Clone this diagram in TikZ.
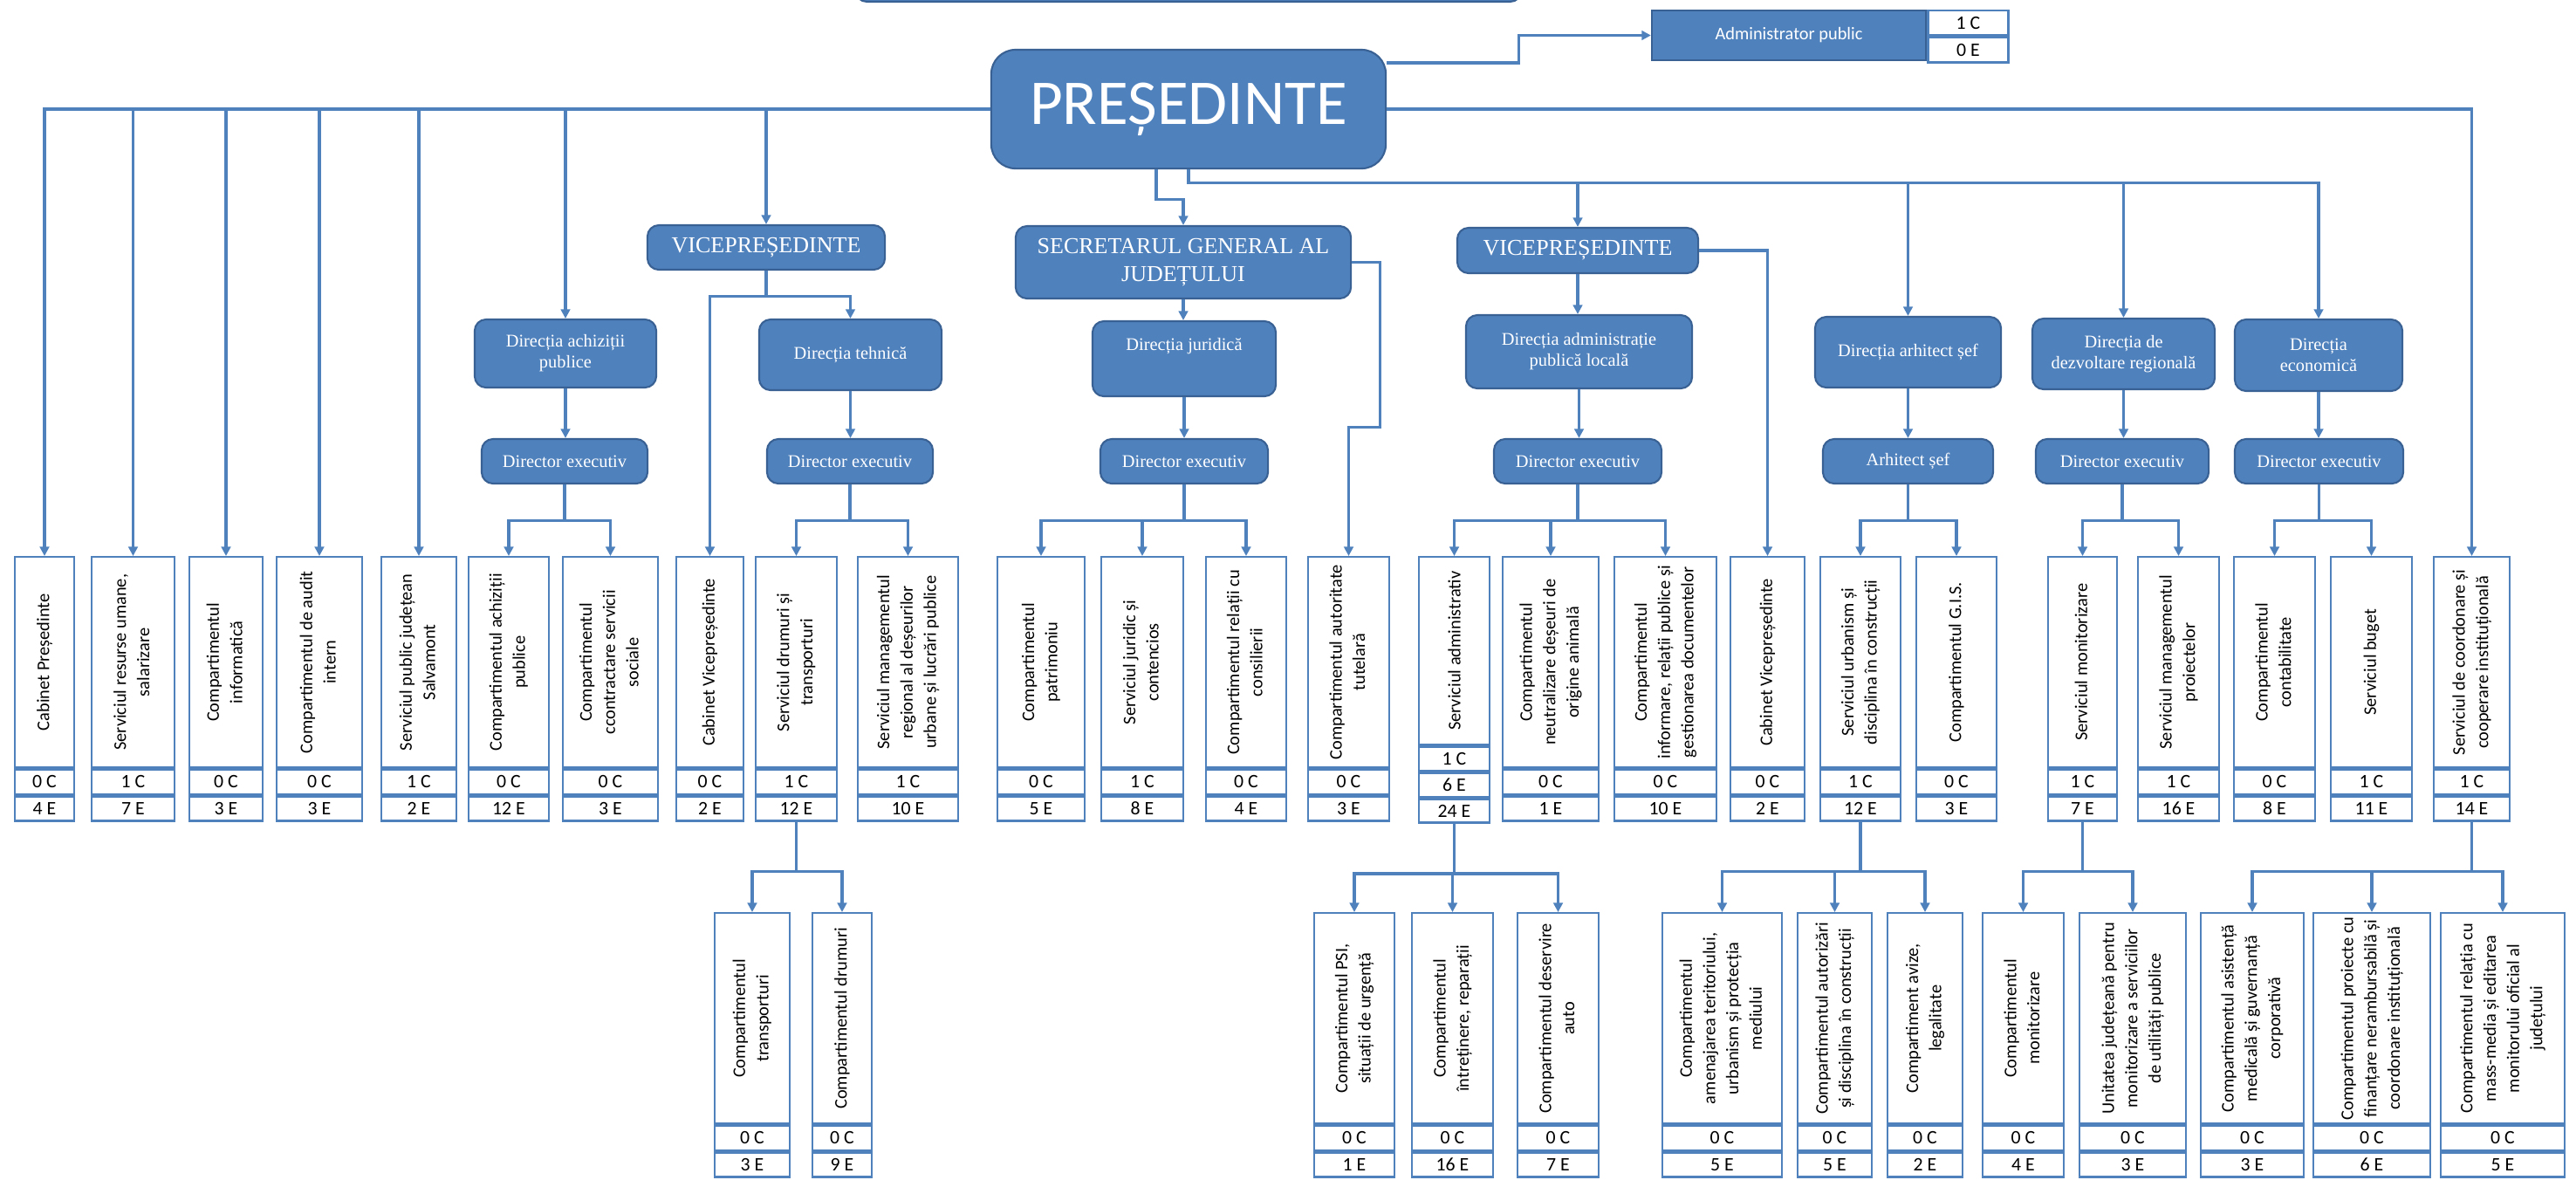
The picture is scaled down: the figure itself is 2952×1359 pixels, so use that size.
\documentclass[tikz,border=0pt]{standalone}
\usepackage{fontspec}
\setmainfont{Liberation Serif}
\newfontfamily\calfont{Carlito}
\usetikzlibrary{arrows.meta}
\definecolor{hdblue}{HTML}{4F81BD}
\definecolor{hdline}{HTML}{3A6193}
\definecolor{lnblue}{HTML}{4F81BD}
% one office: text box with the C and E cells below it
\newcommand{\unitbox}[7]{%
  \node[unit,minimum width={(#3-#2)*0.01cm},anchor=north] (#1) at ({(#2+#3)/2},#4) {\rotatebox{90}{\begin{tabular}{@{}c@{}}#5\end{tabular}}};
  \node[cell,minimum width={(#3-#2)*0.01cm},anchor=north] (#1c) at (#1.south) {#6};
  \node[cell,minimum width={(#3-#2)*0.01cm},anchor=north] (#1e) at (#1c.south) {#7};}

\begin{document}
\begin{tikzpicture}[x=0.01cm,y=-0.01cm,>={Triangle[length=3pt,width=3pt]},
    head/.style={draw=hdline,fill=hdblue,text=white,rounded corners=1.3mm,line width=0.6pt,align=center,inner sep=1pt},
    small head/.style={head,font=\rmfamily\fontsize{5.8}{6.8}\selectfont},
    big head/.style={head,font=\rmfamily\fontsize{7.4}{9}\selectfont},
    unit/.style={draw=lnblue,fill=white,line width=0.7pt,inner sep=0pt,minimum height=2.41cm,font=\calfont\fontsize{5.8}{7.6}\selectfont},
    cell/.style={draw=lnblue,fill=white,line width=0.7pt,inner sep=0pt,minimum height=0.28cm,font=\calfont\fontsize{6.2}{7}\selectfont},
    conn/.style={draw=lnblue,line width=0.9pt,->}]
  \useasboundingbox (0,0) rectangle (2952,1359);

  % top level
  \node[head,minimum width=7.63cm,minimum height=1cm,anchor=south] (cons) at (1362,3) {};
  \node[head,rounded corners=2.8mm,minimum width=4.52cm,minimum height=1.36cm,font=\calfont\fontsize{20.8}{24}\selectfont] (pres) at (1362,125) {PREȘEDINTE};
  \node[draw=hdline,fill=hdblue,text=white,line width=0.6pt,inner sep=0pt,minimum width=3.14cm,minimum height=0.57cm,font=\calfont\fontsize{5.8}{7}\selectfont] (admin) at (2050,40.5) {Administrator public};
  \node[cell,minimum width=0.92cm,minimum height=0.285cm,anchor=north west] (adminc) at (admin.north east) {1 C};
  \node[cell,minimum width=0.92cm,minimum height=0.285cm,anchor=north west] (admine) at (adminc.south west) {0 E};

  \node[big head,minimum width=2.72cm,minimum height=0.51cm] (vp1) at (878,283.5) {VICEPREȘEDINTE};
  \node[big head,minimum width=3.84cm,minimum height=0.83cm] (sec) at (1356,300.5) {SECRETARUL GENERAL AL\\JUDEȚULUI};
  \node[big head,minimum width=2.76cm,minimum height=0.52cm] (vp2) at (1808,287) {VICEPREȘEDINTE};

  % directions
  \node[small head,minimum width=2.08cm,minimum height=0.78cm] (dap) at (648,405) {Direcția achiziții\\publice};
  \node[small head,minimum width=1.90cm,minimum height=0.51cm] (dea) at (647,528.5) {Director executiv};
  \node[small head,minimum width=2.09cm,minimum height=0.81cm] (dth) at (974.5,406.5) {Direcția tehnică};
  \node[small head,minimum width=1.90cm,minimum height=0.51cm] (det) at (974,528.5) {Director executiv};
  \node[small head,minimum width=2.10cm,minimum height=0.86cm] (djr) at (1357,411) {Direcția juridică\\[2.5pt]\mbox{}};
  \node[small head,minimum width=1.92cm,minimum height=0.51cm] (dej) at (1357,528.5) {Director executiv};
  \node[small head,minimum width=2.59cm,minimum height=0.84cm] (dapl) at (1809.5,403) {Direcția administrație\\publică locală};
  \node[small head,minimum width=1.92cm,minimum height=0.51cm] (dea2) at (1808,528.5) {Director executiv};
  \node[small head,minimum width=2.13cm,minimum height=0.81cm] (das) at (2186.5,403.5) {Direcția arhitect șef};
  \node[small head,minimum width=1.95cm,minimum height=0.51cm] (ars) at (2186.5,528.5) {Arhitect șef};
  \node[small head,minimum width=2.09cm,minimum height=0.81cm] (ddr) at (2433.5,405.5) {Direcția de\\dezvoltare regională};
  \node[small head,minimum width=1.98cm,minimum height=0.51cm] (ded) at (2432,528.5) {Director executiv};
  \node[small head,minimum width=1.92cm,minimum height=0.82cm] (dec) at (2657,407) {Direcția\\economică};
  \node[small head,minimum width=1.93cm,minimum height=0.51cm] (dee) at (2657.5,528.5) {Director executiv};

  % first row of offices
  \unitbox{cabp}{17}{85}{637}{Cabinet Președinte}{0 C}{4 E}
  \unitbox{srum}{105}{200}{637}{Serviciul resurse umane,\\salarizare}{1 C}{7 E}
  \unitbox{cinf}{217}{301}{637}{Compartimentul\\informatică}{0 C}{3 E}
  \unitbox{caud}{317}{415}{637}{Compartimentul de audit\\intern}{0 C}{3 E}
  \unitbox{spjs}{437}{523}{637}{Serviciul public județean\\Salvamont}{1 C}{2 E}
  \unitbox{cap}{537}{629}{637}{Compartimentul achiziții\\publice}{0 C}{12 E}
  \unitbox{ccs}{645}{754}{637}{Compartimentul\\ccontractare servicii\\sociale}{0 C}{3 E}
  \unitbox{cvp1}{775}{852}{637}{Cabinet Vicepreședinte}{0 C}{2 E}
  \unitbox{sdt}{866}{959}{637}{Serviciul drumuri și\\transporturi}{1 C}{12 E}
  \unitbox{smr}{983}{1098}{637}{Serviciul managementul\\regional al deșeurilor\\urbane și lucrări publice}{1 C}{10 E}
  \unitbox{cpat}{1143}{1243}{637}{Compartimentul\\patrimoniu}{0 C}{5 E}
  \unitbox{sjc}{1262}{1356}{637}{Serviciul juridic și\\contencios}{1 C}{8 E}
  \unitbox{crc}{1382}{1474}{637}{Compartimentul relații cu\\consilierii}{0 C}{4 E}
  \unitbox{cat}{1499}{1592}{637}{Compartimentul autoritate\\tutelară}{0 C}{3 E}
  \node[unit,minimum width=0.81cm,minimum height=2.15cm,anchor=north] (sad) at (1666.5,637) {\rotatebox{90}{Serviciul administrativ}};
  \node[cell,minimum width=0.81cm,minimum height=0.273cm,anchor=north] (sadc) at (sad.south) {1 C};
  \node[cell,minimum width=0.81cm,minimum height=0.273cm,anchor=north] (sade) at (sadc.south) {6 E};
  \node[cell,minimum width=0.81cm,minimum height=0.273cm,anchor=north] (sadt) at (sade.south) {24 E};
  \unitbox{cnd}{1722}{1832}{637}{Compartimentul\\neutralizare deșeuri de\\origine animală}{0 C}{1 E}
  \unitbox{cirp}{1850}{1967}{637}{Compartimentul\\informare, relații publice și\\gestionarea documentelor}{0 C}{10 E}
  \unitbox{cvp2}{1983}{2068}{637}{Cabinet Vicepreședinte}{0 C}{2 E}
  \unitbox{sud}{2086}{2178}{637}{Serviciul urbanism și\\disciplina  în construcții}{1 C}{12 E}
  \unitbox{cgis}{2196}{2288}{637}{Compartimentul G.I.S.}{0 C}{3 E}
  \unitbox{smo}{2347}{2426}{637}{Serviciul monitorizare}{1 C}{7 E}
  \unitbox{smp}{2450}{2543}{637}{Serviciul managementul\\proiectelor}{1 C}{16 E}
  \unitbox{ccon}{2560}{2653}{637}{Compartimentul\\contabilitate}{0 C}{8 E}
  \unitbox{sbug}{2671}{2764}{637}{Serviciul buget}{1 C}{11 E}
  \unitbox{scc}{2789}{2876}{637}{Serviciul de coordonare și\\cooperare instituțională}{1 C}{14 E}

  % second row of offices
  \unitbox{ctr}{819}{905}{1045}{Compartimentul\\transporturi}{0 C}{3 E}
  \unitbox{cdr}{931}{999}{1045}{Compartimentul drumuri}{0 C}{9 E}
  \unitbox{cpsi}{1506}{1598}{1045}{Compartimentul PSI,\\situații de urgență}{0 C}{1 E}
  \unitbox{cint}{1618}{1711}{1045}{Compartimentul\\întreținere, reparații}{0 C}{16 E}
  \unitbox{cda}{1739}{1832}{1045}{Compartimentul deservire\\auto}{0 C}{7 E}
  \unitbox{cam}{1905}{2042}{1045}{Compartimentul\\amenajarea teritoriului,\\urbanism și protecția\\mediului}{0 C}{5 E}
  \unitbox{cadc}{2060}{2145}{1045}{Compartimentul autorizări\\și disciplina în construcții}{0 C}{5 E}
  \unitbox{cav}{2163}{2249}{1045}{Compartiment avize,\\legalitate}{0 C}{2 E}
  \unitbox{cmo}{2272}{2365}{1045}{Compartimentul\\monitorizare}{0 C}{4 E}
  \unitbox{ujm}{2383}{2505}{1045}{Unitatea județeană pentru\\monitorizare a serviciilor\\de utilități publice}{0 C}{3 E}
  \unitbox{camg}{2522}{2640}{1045}{Compartimentul asistență\\medicală și guvernanță\\corporativă}{0 C}{3 E}
  \unitbox{cpfn}{2651}{2785}{1045}{Compartimentul proiecte cu\\finanțare nerambursabilă și\\coordonare instituțională}{0 C}{6 E}
  \unitbox{crmm}{2797}{2939}{1045}{Compartimentul relația cu\\mass-media și editarea\\monitorului oficial al\\județului}{0 C}{5 E}

  % president links
  \draw[conn] (pres.west) -| (cabp.north);
  \draw[conn] (srum.north |- pres.west) -- (srum.north);
  \draw[conn] (cinf.north |- pres.west) -- (cinf.north);
  \draw[conn] (caud.north |- pres.west) -- (caud.north);
  \draw[conn] (spjs.north |- pres.west) -- (spjs.north);
  \draw[conn] (dap.north |- pres.west) -- (dap.north);
  \draw[conn] (vp1.north |- pres.west) -- (vp1.north);
  \draw[conn] (pres.east) -| (scc.north);
  \draw[conn] ([yshift=0.53cm]pres.east) -- ++(151,0) |- (admin.west);
  \draw[conn] ([xshift=-0.37cm]pres.south) -- ++(0,34) -| (sec.north);
  \coordinate (bus2) at ([yshift=-0.15cm]pres.south);
  \draw[conn] (pres.south) -- (bus2) -| (dec.north);
  \draw[conn] (vp2.north |- bus2) -- (vp2.north);
  \draw[conn] (das.north |- bus2) -- (das.north);
  \draw[conn] (ddr.north |- bus2) -- (ddr.north);

  % vicepresedinte (left)
  \draw[conn] (vp1.south) -- ++(0,29) -| (dth.north);
  \draw[conn] (vp1.south) ++(0,29) -| (cvp1.north);
  \draw[conn] (dap.south) -- (dap.south |- dea.north);
  \draw[conn] (dea.south) -- ++(0,41) -| (cap.north);
  \draw[conn] (dea.south) ++(0,41) -| (ccs.north);
  \draw[conn] (dth.south) -- (dth.south |- det.north);
  \draw[conn] (det.south) -- ++(0,41) -| (sdt.north);
  \draw[conn] (det.south) ++(0,41) -| (smr.north);
  \draw[conn] (sdte.south) -- ++(0,57) -| (ctr.north);
  \draw[conn] (sdte.south) ++(0,57) -| (cdr.north);

  % secretar general
  \draw[conn] (sec.south) -- (sec.south |- djr.north);
  \draw[conn] (djr.south) -- (djr.south |- dej.north);
  \draw[conn] (dej.south) -- ++(0,41) -| (cpat.north);
  \draw[conn] (dej.south) ++(0,41) -| (sjc.north);
  \draw[conn] (dej.south) ++(0,41) -| (crc.north);
  \draw[conn] (sec.east) -- ++(32,0) -- ++(0,189) -| (cat.north);

  % vicepresedinte (right)
  \draw[conn] (vp2.south) -- (vp2.south |- dapl.north);
  \draw[conn] (vp2.east) -| (cvp2.north);
  \draw[conn] (dapl.south) -- (dapl.south |- dea2.north);
  \draw[conn] (dea2.south) -- ++(0,41) -| (sad.north);
  \draw[conn] (dea2.south) ++(0,41) -| (cnd.north);
  \draw[conn] (dea2.south) ++(0,41) -| (cirp.north);
  \draw[conn] (sadt.south) -- ++(0,57) -| (cpsi.north);
  \draw[conn] (sadt.south) ++(0,57) -| (cint.north);
  \draw[conn] (sadt.south) ++(0,57) -| (cda.north);

  % other directions
  \draw[conn] (das.south) -- (das.south |- ars.north);
  \draw[conn] (ars.south) -- ++(0,41) -| (sud.north);
  \draw[conn] (ars.south) ++(0,41) -| (cgis.north);
  \draw[conn] (sude.south) -- ++(0,57) -| (cam.north);
  \draw[conn] (sude.south) ++(0,57) -| (cadc.north);
  \draw[conn] (sude.south) ++(0,57) -| (cav.north);
  \draw[conn] (ddr.south) -- (ddr.south |- ded.north);
  \draw[conn] (ded.south) -- ++(0,41) -| (smo.north);
  \draw[conn] (ded.south) ++(0,41) -| (smp.north);
  \draw[conn] (smoe.south) -- ++(0,57) -| (cmo.north);
  \draw[conn] (smoe.south) ++(0,57) -| (ujm.north);
  \draw[conn] (dec.south) -- (dec.south |- dee.north);
  \draw[conn] (dee.south) -- ++(0,41) -| (ccon.north);
  \draw[conn] (dee.south) ++(0,41) -| (sbug.north);
  \draw[conn] (scce.south) -- ++(0,57) -| (camg.north);
  \draw[conn] (scce.south) ++(0,57) -| (cpfn.north);
  \draw[conn] (scce.south) ++(0,57) -| (crmm.north);
\end{tikzpicture}
\end{document}
